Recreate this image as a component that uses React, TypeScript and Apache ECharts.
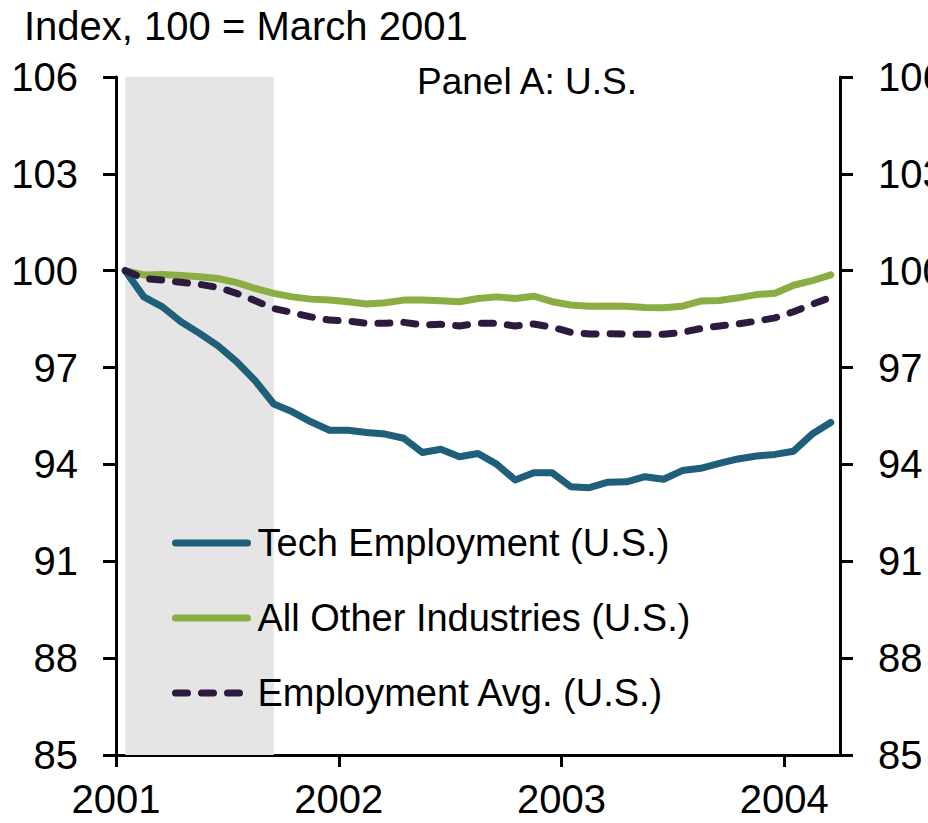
import React, { useEffect, useRef } from "react";
import * as echarts from "echarts";

const months = [
  "Mar 2001", "Apr 2001", "May 2001", "Jun 2001", "Jul 2001", "Aug 2001", "Sep 2001", "Oct 2001", "Nov 2001", "Dec 2001",
  "Jan 2002", "Feb 2002", "Mar 2002", "Apr 2002", "May 2002", "Jun 2002", "Jul 2002", "Aug 2002", "Sep 2002", "Oct 2002", "Nov 2002", "Dec 2002",
  "Jan 2003", "Feb 2003", "Mar 2003", "Apr 2003", "May 2003", "Jun 2003", "Jul 2003", "Aug 2003", "Sep 2003", "Oct 2003", "Nov 2003", "Dec 2003",
  "Jan 2004", "Feb 2004", "Mar 2004", "Apr 2004", "May 2004",
];

const tech = [
  100, 99.19, 98.88, 98.42, 98.06, 97.67, 97.18, 96.59, 95.87, 95.63, 95.32, 95.06, 95.06,
  94.99, 94.94, 94.81, 94.37, 94.47, 94.24, 94.34, 94.01, 93.52, 93.74, 93.74, 93.31, 93.28,
  93.45, 93.46, 93.62, 93.54, 93.81, 93.88, 94.03, 94.17, 94.26, 94.31, 94.41, 94.94, 95.3,
];

const otherIndustries = [
  100, 99.87, 99.88, 99.85, 99.81, 99.76, 99.63, 99.45, 99.3, 99.19, 99.12, 99.09, 99.04,
  98.97, 99.01, 99.09, 99.09, 99.07, 99.04, 99.14, 99.19, 99.14, 99.21, 99.04, 98.94, 98.9,
  98.91, 98.9, 98.86, 98.85, 98.9, 99.06, 99.08, 99.16, 99.26, 99.3, 99.55, 99.69, 99.87,
];

const employmentAvg = [
  100, 99.76, 99.71, 99.64, 99.58, 99.48, 99.3, 99.07, 98.83, 98.7, 98.57, 98.47, 98.44,
  98.37, 98.37, 98.4, 98.32, 98.34, 98.29, 98.37, 98.37, 98.29, 98.35, 98.25, 98.09, 98.04,
  98.05, 98.04, 98.03, 98.03, 98.09, 98.21, 98.29, 98.35, 98.44, 98.54, 98.73, 98.96, 99.17,
];

const yearLabels = ["2001", "2002", "2003", "2004"];
const recession = ["Mar 2001", "Nov 2001"];

const FONT = "'Liberation Sans', Arial, sans-serif";

export default function App() {
  const ref = useRef<HTMLDivElement>(null);
  useEffect(() => {
    if (!ref.current) return;
    const chart = echarts.init(ref.current, undefined, { renderer: "svg" });
    const toPairs = (arr: number[]) => arr.map((v, i) => [i + 0.5, v]);
    const recStart = months.indexOf(recession[0]) + 0.5;
    const recEnd = months.indexOf(recession[1]) + 0.5;
    const yAxisCommon = {
      type: "value",
      min: 85,
      max: 106,
      interval: 3,
      splitLine: { show: false },
      axisLine: { show: true, lineStyle: { color: "#000", width: 3 } },
      axisTick: { show: true, length: 13, lineStyle: { color: "#000", width: 3 } },
      axisLabel: { color: "#000", fontSize: 40, fontFamily: FONT, margin: 38 },
    };
    chart.setOption({
      animation: false,
      backgroundColor: "#fff",
      textStyle: { fontFamily: FONT },
      title: [
        {
          text: "Index, 100 = March 2001",
          left: 19,
          top: 1,
          textStyle: { fontSize: 40, fontWeight: "normal", color: "#000", fontFamily: FONT },
        },
        {
          text: "Panel A: U.S.",
          left: 412,
          top: 58,
          textStyle: { fontSize: 37, fontWeight: "normal", color: "#000", fontFamily: FONT },
        },
      ],
      grid: { left: 116, right: 88, top: 77, bottom: 68, containLabel: false, outerBoundsMode: "none" },
      legend: {
        orient: "vertical",
        left: 167,
        top: 518,
        itemWidth: 72,
        itemHeight: 20,
        itemGap: 35,
        itemStyle: { opacity: 0 },
        lineStyle: { width: 7, cap: "round" },
        textStyle: { fontSize: 38, color: "#000", fontFamily: FONT, lineHeight: 40, padding: [0, 0, 0, 5] },
        data: ["Tech Employment (U.S.)", "All Other Industries (U.S.)", "Employment Avg. (U.S.)"],
      },
      xAxis: {
        type: "value",
        min: 0,
        max: months.length,
        interval: 12,
        splitLine: { show: false },
        axisLine: { show: true, lineStyle: { color: "#000", width: 3 } },
        axisTick: { show: true, length: 12, lineStyle: { color: "#000", width: 3 } },
        axisLabel: {
          color: "#000",
          fontSize: 40,
          fontFamily: FONT,
          margin: 24,
          showMaxLabel: false,
          formatter: (v: number) => (v % 12 === 0 ? yearLabels[v / 12] ?? "" : ""),
        },
      },
      yAxis: [
        { ...yAxisCommon, position: "left" },
        { ...yAxisCommon, position: "right" },
      ],
      series: [
        {
          name: "Tech Employment (U.S.)",
          type: "line",
          data: toPairs(tech),
          symbol: "none",
          lineStyle: { color: "#1f5f7a", width: 7, cap: "round", join: "round" },
          itemStyle: { color: "#1f5f7a" },
          z: 3,
          markArea: {
            silent: true,
            itemStyle: { color: "#e5e5e5" },
            data: [[{ xAxis: recStart }, { xAxis: recEnd }]],
          },
        },
        {
          name: "All Other Industries (U.S.)",
          type: "line",
          data: toPairs(otherIndustries),
          symbol: "none",
          lineStyle: { color: "#8aae44", width: 7, cap: "round", join: "round" },
          itemStyle: { color: "#8aae44" },
          z: 3,
        },
        {
          name: "Employment Avg. (U.S.)",
          type: "line",
          data: toPairs(employmentAvg),
          symbol: "none",
          lineStyle: { color: "#2e1a3f", width: 7, type: [12, 14], cap: "round", join: "round" },
          itemStyle: { color: "#2e1a3f" },
          z: 4,
        },
      ],
    });
    return () => chart.dispose();
  }, []);
  return (
    <div
      ref={ref}
      style={{ position: "fixed", left: 0, top: 0, width: 928, height: 823 }}
    />
  );
}
